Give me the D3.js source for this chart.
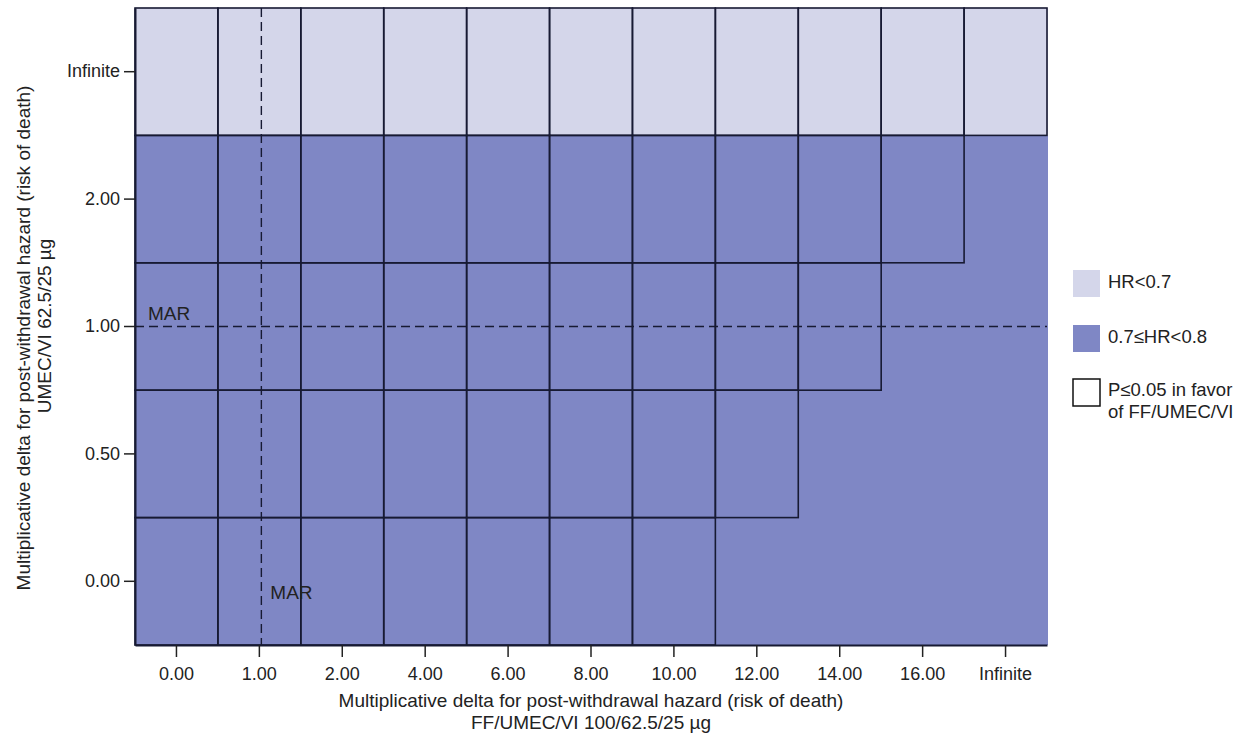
<!DOCTYPE html>
<html>
<head>
<meta charset="utf-8">
<script src="https://cdn.jsdelivr.net/npm/d3@7"></script>
<style>
  body { margin: 0; background: #fff; }
  svg text { font-family: "Liberation Sans", Arial, sans-serif; fill: #222; }
</style>
</head>
<body>
<div id="chart"></div>
<script>
// x: FF/UMEC/VI delta, y: UMEC/VI delta
const xCats = ["0.00", "1.00", "2.00", "4.00", "6.00", "8.00", "10.00", "12.00", "14.00", "16.00", "Infinite"];
const yCats = ["0.00", "0.50", "1.00", "2.00", "Infinite"];
// 0 = HR<0.7, 1 = 0.7≤HR<0.8 (one row per yCats entry)
const hrBand = [
  [1, 1, 1, 1, 1, 1, 1, 1, 1, 1, 1],
  [1, 1, 1, 1, 1, 1, 1, 1, 1, 1, 1],
  [1, 1, 1, 1, 1, 1, 1, 1, 1, 1, 1],
  [1, 1, 1, 1, 1, 1, 1, 1, 1, 1, 1],
  [0, 0, 0, 0, 0, 0, 0, 0, 0, 0, 0]
];
// 1 = P≤0.05 in favor of FF/UMEC/VI
const sigFavor = [
  [1, 1, 1, 1, 1, 1, 1, 0, 0, 0, 0],
  [1, 1, 1, 1, 1, 1, 1, 1, 0, 0, 0],
  [1, 1, 1, 1, 1, 1, 1, 1, 1, 0, 0],
  [1, 1, 1, 1, 1, 1, 1, 1, 1, 1, 0],
  [1, 1, 1, 1, 1, 1, 1, 1, 1, 1, 1]
];
const bandLabels = ["HR<0.7", "0.7≤HR<0.8"];
const bandColors = ["#d4d6ea", "#7f87c5"];
const marX = "1.00";
const marY = "1.00";

const W = 1254, H = 740;
const pLeft = 135, pRight = 1047, pTop = 8, pBottom = 645;
const lineColor = "#171a33";

let svg = d3.select("#chart").append("svg")
  .attr("width", W).attr("height", H);

let x = d3.scaleBand().domain(xCats).range([pLeft, pRight]);
let y = d3.scaleBand().domain(yCats).range([pBottom, pTop]);
let color = d3.scaleOrdinal().domain([0, 1]).range(bandColors);

let cells = [];
yCats.forEach((yc, i) => {
  xCats.forEach((xc, j) => {
    cells.push({ x: xc, y: yc, band: hrBand[i][j], sig: sigFavor[i][j] });
  });
});

// fills
svg.append("g").attr("shape-rendering", "crispEdges").selectAll("rect")
  .data(cells)
  .enter().append("rect")
  .attr("x", d => Math.floor(x(d.x)))
  .attr("y", d => Math.floor(y(d.y)))
  .attr("width", x.bandwidth() + 1)
  .attr("height", y.bandwidth() + 1)
  .attr("fill", d => color(d.band));

// significance outlines
svg.append("g").selectAll("rect")
  .data(cells.filter(d => d.sig == 1))
  .enter().append("rect")
  .attr("x", d => x(d.x))
  .attr("y", d => y(d.y))
  .attr("width", x.bandwidth())
  .attr("height", y.bandwidth())
  .attr("fill", "none")
  .attr("stroke", lineColor)
  .attr("stroke-width", 1.6);

// MAR reference lines
let mx = x(marX) + x.bandwidth() / 2 + 2;
let my = y(marY) + y.bandwidth() / 2;
svg.append("line")
  .attr("x1", mx).attr("x2", mx).attr("y1", pTop).attr("y2", pBottom)
  .attr("stroke", lineColor).attr("stroke-width", 1.4).attr("stroke-dasharray", "9,5");
svg.append("line")
  .attr("x1", pLeft).attr("x2", pRight).attr("y1", my).attr("y2", my)
  .attr("stroke", lineColor).attr("stroke-width", 1.4).attr("stroke-dasharray", "9,5");
svg.append("text").text("MAR")
  .attr("x", pLeft + 13).attr("y", my - 7)
  .attr("font-size", "19px");
svg.append("text").text("MAR")
  .attr("x", mx + 9).attr("y", y(yCats[0]) + y.bandwidth() / 2 + 18)
  .attr("font-size", "19px");

// axes
let xAxis = svg.append("g")
  .attr("transform", "translate(0," + pBottom + ")")
  .call(d3.axisBottom(x).tickSize(12).tickSizeOuter(0).tickPadding(10));
let yAxis = svg.append("g")
  .attr("transform", "translate(" + pLeft + ",0)")
  .call(d3.axisLeft(y).tickSize(11).tickSizeOuter(0).tickPadding(4));
[xAxis, yAxis].forEach(a => {
  a.select(".domain").attr("stroke", lineColor).attr("stroke-width", 2);
  a.selectAll(".tick line").attr("stroke", "#222").attr("stroke-width", 1.5);
  a.selectAll(".tick text").attr("font-size", "18px").attr("font-family", null).attr("fill", "#222");
});

// axis titles
let cx = (pLeft + pRight) / 2;
svg.append("text").text("Multiplicative delta for post-withdrawal hazard (risk of death)")
  .attr("x", cx).attr("y", 707).attr("text-anchor", "middle").attr("font-size", "19px");
svg.append("text").text("FF/UMEC/VI 100/62.5/25 µg")
  .attr("x", cx).attr("y", 729).attr("text-anchor", "middle").attr("font-size", "19px");
svg.append("text").text("Multiplicative delta for post-withdrawal hazard (risk of death)")
  .attr("transform", "translate(30,338) rotate(-90)")
  .attr("text-anchor", "middle").attr("font-size", "19px");
svg.append("text").text("UMEC/VI 62.5/25 µg")
  .attr("transform", "translate(51,326) rotate(-90)")
  .attr("text-anchor", "middle").attr("font-size", "19px");

// legend
let legend = svg.append("g").attr("transform", "translate(1073,270)");
bandLabels.forEach((lab, i) => {
  let g = legend.append("g").attr("transform", "translate(0," + i * 55 + ")");
  g.append("rect").attr("width", 27).attr("height", 27).attr("fill", bandColors[i]);
  g.append("text").text(lab).attr("x", 35).attr("y", 18).attr("font-size", "18.5px");
});
let lg = legend.append("g").attr("transform", "translate(0,109)");
lg.append("rect").attr("width", 27).attr("height", 27)
  .attr("fill", "#fff").attr("stroke", "#111").attr("stroke-width", 1.5);
lg.append("text").text("P≤0.05 in favor").attr("x", 35).attr("y", 17).attr("font-size", "18.5px");
lg.append("text").text("of FF/UMEC/VI").attr("x", 35).attr("y", 39).attr("font-size", "18.5px");
</script>
</body>
</html>
